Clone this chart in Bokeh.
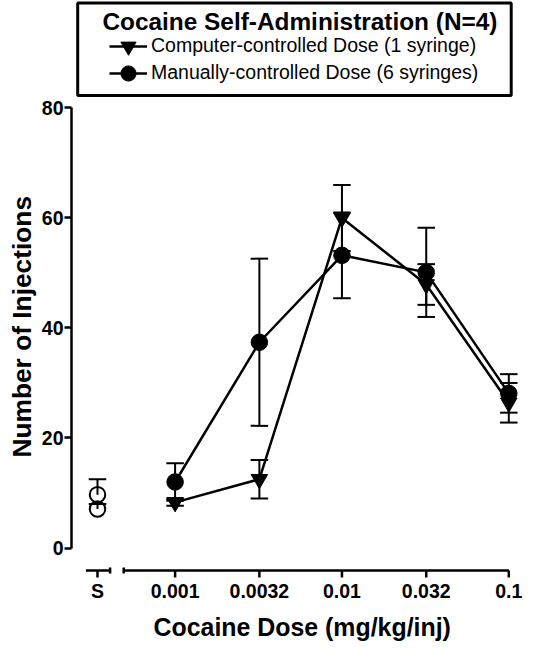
import numpy as np
from bokeh.plotting import figure
from bokeh.core.properties import value
from bokeh.models import (Range1d, FixedTicker, Whisker, TeeHead, ColumnDataSource,
                          BoxAnnotation, Label, Legend, LegendItem, Title)
from bokeh.embed import file_html
from bokeh.resources import INLINE

# ---------------- data ----------------
doses = [0.001, 0.0032, 0.01, 0.032, 0.1]
dose_labels = ["0.001", "0.0032", "0.01", "0.032", "0.1"]
computer_mean = [8.3, 12.5, 60.0, 47.9, 26.4]
computer_sem = [0.6, 3.5, 6.0, 3.7, 3.6]
manual_mean = [12.0, 37.4, 53.2, 50.1, 28.1]
manual_sem = [3.4, 15.2, 7.8, 8.1, 3.5]
saline_label = "S"
saline_mean = [7.1, 9.7]      # computer-controlled, manually-controlled
saline_sem = [0.9, 2.8]
y_ticks = [0, 20, 40, 60, 80]

legend_title = "Cocaine Self-Administration (N=4)"
series_names = ["Computer-controlled Dose (1 syringe)",
                "Manually-controlled Dose (6 syringes)"]
x_title = "Cocaine Dose (mg/kg/inj)"
y_title = "Number of Injections"

# ---------------- layout (canvas pixels) ----------------
W, H = 523, 643
FL, FR, FT, FB = 71, 523, 0, 643
X0_PX, XDEC = 174.6, (508.3 - 174.6) / 2.0   # canvas x of 0.001 and px per decade
Y0_PX, YPX = 547.5, (547.5 - 107.4) / 80.0   # canvas y of 0 and px per unit


def xd(cx):
    return -3 + (cx - X0_PX) / XDEC


def yd(cy):
    return (Y0_PX - cy) / YPX


FONT = "Liberation Sans"
xs = list(np.log10(doses))
S_POS = xd(97)

p = figure(width=W, height=H, x_range=Range1d(xd(FL), xd(FR)),
           y_range=Range1d(yd(FB), yd(FT)), output_backend="svg",
           toolbar_location=None, title=None,
           min_border_left=FL, min_border_right=W - FR,
           min_border_top=FT, min_border_bottom=H - FB)
p.outline_line_color = None
p.grid.visible = False
p.background_fill_color = "white"
p.border_fill_color = "white"
p.xaxis.visible = False

# ---------------- y axis ----------------
ya = p.yaxis[0]
ya.bounds = (0, 80)
ya.ticker = FixedTicker(ticks=y_ticks)
ya.axis_line_width = 2.5
ya.major_tick_line_width = 2.5
ya.major_tick_out = 7
ya.major_tick_in = 0
ya.minor_tick_line_color = None
ya.major_label_standoff = 1
ya.major_label_text_font = FONT
ya.major_label_text_font_style = "bold"
ya.major_label_text_font_size = "19.5px"
ya.major_label_text_color = "black"

p.add_layout(Title(text=y_title, align="left", offset=186, standoff=0,
                   vertical_align="top",
                   text_font=FONT, text_font_style="bold", text_font_size="26.3px",
                   text_color="black"), "left")

# ---------------- x axis: broken baseline, ticks and labels on the x scale ----------------
tick_pos = [S_POS] + xs
tick_labels = [saline_label] + dose_labels
BASE = yd(570)
TICK_END = yd(577)
p.segment(x0=[xd(85.4), xd(123.2)], y0=[BASE, BASE], x1=[xd(109.6), xs[-1]], y1=[BASE, BASE],
          line_color="black", line_width=2.5)
p.segment(x0=tick_pos, y0=[BASE] * len(tick_pos), x1=tick_pos, y1=[TICK_END] * len(tick_pos),
          line_color="black", line_width=2.5)
p.segment(x0=[xd(109.6), xd(123.2)], y0=[yd(567), yd(567)], x1=[xd(109.6), xd(123.2)],
          y1=[yd(573), yd(573)], line_color="black", line_width=2.5)
p.text(x=tick_pos, y=[yd(590)] * len(tick_pos), text=tick_labels,
       text_align="center", text_baseline="middle",
       text_font=value(FONT), text_font_style="bold", text_font_size="19.5px",
       text_color="black")
p.add_layout(Label(x=xd(301.7), y=yd(626.5), text=x_title, text_align="center",
                   text_baseline="middle", text_font=FONT, text_font_style="bold",
                   text_font_size="24.9px", text_color="black"))

# ---------------- error bars ----------------
def whisker(x, mean, sem, lower_head=True):
    src = ColumnDataSource(dict(x=x, upper=[m + s for m, s in zip(mean, sem)],
                                lower=[m - s for m, s in zip(mean, sem)] if lower_head else list(mean)))
    w = Whisker(base="x", upper="upper", lower="lower", source=src,
                line_color="black", line_width=2,
                upper_head=TeeHead(size=17.5, line_width=2, line_color="black"),
                lower_head=TeeHead(size=17.5, line_width=2, line_color="black") if lower_head else None)
    p.add_layout(w)


whisker(xs, computer_mean, computer_sem)
whisker(xs, manual_mean, manual_sem)
whisker([S_POS, S_POS], saline_mean, saline_sem, lower_head=False)

# ---------------- series ----------------
lc = p.line(xs, computer_mean, line_color="black", line_width=2.5)
sc = p.scatter(xs, computer_mean, marker="inverted_triangle", size=16.5,
               fill_color="black", line_color="black")
lm = p.line(xs, manual_mean, line_color="black", line_width=2.5)
sm = p.scatter(xs, manual_mean, marker="circle", size=16.5,
               fill_color="black", line_color="black")
p.scatter([S_POS, S_POS], saline_mean, marker="circle", size=15.5,
          fill_color=None, line_color="black", line_width=2)

# ---------------- legend box ----------------
p.add_layout(BoxAnnotation(left=xd(77.2), right=xd(510.7), top=yd(2.5), bottom=yd(95.1),
                           fill_color="white", fill_alpha=1.0,
                           line_color="black", line_alpha=1.0, line_width=3))
p.add_layout(Label(x=xd(101.9), y=yd(20.8), text=legend_title, text_align="left",
                   text_baseline="middle", text_font=FONT, text_font_style="bold",
                   text_font_size="24.4px", text_color="black"))


def make_legend(label, renderers, center_y):
    return Legend(items=[LegendItem(label=label, renderers=renderers)],
                  location=(38, FB - (center_y + 19)), orientation="vertical",
                  glyph_width=38, glyph_height=38, label_height=38, spacing=0,
                  label_standoff=4, padding=0, margin=0,
                  border_line_color=None, background_fill_alpha=0.0,
                  label_text_font=FONT, label_text_font_size="19.5px",
                  label_text_color="black")


p.add_layout(make_legend(series_names[0], [lc, sc], 45.9))
p.add_layout(make_legend(series_names[1], [lm, sm], 72.7))

open("out.html", "w").write(file_html(p, INLINE))
